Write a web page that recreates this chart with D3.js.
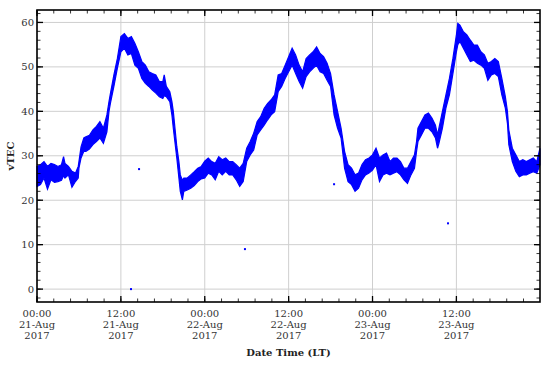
<!DOCTYPE html>
<html>
<head>
<meta charset="utf-8">
<script src="https://cdn.jsdelivr.net/npm/d3@7"></script>
<style>
  body { margin: 0; background: #fff; }
  svg { display: block; }
  text { font-family: 'DejaVu Serif', serif; }
</style>
</head>
<body>
<script>
// vTEC: hours since 21-Aug-2017 00:00 (LT), low / high edge of the band
const hours = [0,0.5,1,1.5,2,2.5,3,3.5,3.8,4,4.5,5,5.5,5.9,6,6.3,6.7,7,7.5,8,8.5,9,9.5,10,10.3,10.5,11,11.5,12,
  12.5,13,13.5,14,14.5,15,15.5,16,16.5,17,17.5,18,18.2,18.5,19,19.3,19.5,20,20.3,20.5,20.8,21,21.5,22,22.5,23,23.5,24,
  24.5,25,25.5,26,26.5,27,27.5,28,28.5,29,29.5,30,30.5,31,31.5,32,32.5,33,33.5,34,34.5,35,35.5,36,
  36.5,37,37.5,38,38.5,39,39.5,40,40.5,41,41.5,42,42.5,43,43.5,44,44.5,45,45.5,46,46.5,47,47.5,48,
  48.5,49,49.5,50,50.5,51,51.5,52,52.5,53,53.5,54,54.3,54.5,55,55.5,56,56.5,57,57.3,57.5,58,58.5,59,59.5,60,
  60.2,60.5,61,61.5,62,62.5,63,63.5,64,64.5,65,65.5,66,66.5,67,67.3,67.5,68,68.5,69,69.5,70,70.5,71,71.5,71.96];
const vtecLow = [23.1,23.5,25.0,22.5,24.6,24.0,24.2,24.5,25.5,25.0,25.7,22.9,24.2,25.0,27.2,29.5,31.0,31.0,31.5,32.5,33.2,34.0,32.8,35.4,40.0,41.8,45.6,49.7,53.4,
  54.2,52.7,53.0,50.4,49.7,47.4,46.3,45.6,44.8,44.1,43.3,42.9,43.5,43.3,42.2,39.2,36.2,29.5,25.0,22.0,20.1,22.0,22.3,22.7,23.3,24.2,24.8,25.0,
  26.1,25.7,24.6,26.5,25.7,26.5,25.7,25.7,24.6,23.1,24.2,28.7,30.2,31.3,34.7,35.8,36.9,38.1,39.2,39.9,44.4,45.6,47.4,48.9,
  50.4,48.5,46.7,45.2,47.8,48.9,49.7,50.4,48.9,48.5,47.0,45.6,39.2,36.2,34.0,27.2,24.2,23.5,22.0,22.7,24.6,25.7,26.1,26.8,
  28.0,24.2,25.7,26.1,25.7,26.1,26.4,25.7,24.6,23.8,25.7,27.2,31.0,33.2,34.7,36.2,36.2,35.4,34.0,31.7,32.8,36.2,40.7,43.7,48.5,53.4,
  55.0,55.7,54.2,52.7,51.2,51.5,50.8,50.4,49.7,47.0,48.2,48.5,47.8,43.7,40.7,37.3,32.5,28.7,26.5,25.3,25.7,25.7,26.1,26.4,26.1,28.0];
const vtecHigh = [27.6,28.0,28.7,27.6,28.3,28.0,27.6,28.0,29.8,28.3,27.6,26.5,26.1,27.6,28.7,32.0,34.0,34.3,34.6,35.8,36.6,37.7,36.2,39.2,42.2,44.0,48.2,51.9,56.8,
  57.5,56.4,56.8,55.3,53.4,51.2,50.4,48.9,48.5,48.2,46.7,46.7,48.2,45.6,44.4,42.2,40.0,32.1,28.7,25.7,24.5,25.0,25.0,25.7,26.4,27.2,27.6,28.8,
  29.5,28.7,28.3,29.8,29.1,29.5,28.7,28.7,28.0,27.2,28.3,31.7,33.2,35.1,37.7,38.8,40.7,41.8,42.6,43.7,48.2,48.5,50.4,52.3,
  54.2,52.7,50.4,48.9,51.9,52.7,53.4,54.5,53.0,52.3,50.8,48.5,43.7,40.0,36.2,31.0,28.0,27.2,25.7,26.1,28.0,29.1,29.5,30.2,
  31.7,29.5,30.2,30.6,28.7,29.5,29.5,28.7,27.2,27.2,28.7,30.2,33.2,36.2,37.7,39.2,39.6,38.5,36.9,34.7,36.2,40.0,43.7,47.4,51.9,57.2,
  59.8,59.4,57.9,57.2,56.0,54.9,54.9,53.4,52.7,50.8,51.2,51.9,51.2,47.4,43.3,40.0,35.8,31.7,30.2,28.7,29.1,28.7,29.1,29.5,28.7,31.7];
// stray single readings
const strayHours = [13.45,14.6,29.75,42.5,58.8];
const strayVtec = [0,27,9,23.6,14.8];

const yTicks = [0,10,20,30,40,50,60];

const w = 550, h = 366;
const pL = 37, pR = 540, pT = 10, pB = 302;
const t0 = Date.UTC(2017,7,21,0,0);
const toDate = hr => new Date(t0 + hr*3600e3);

const band = hours.map((d,i)=>({t:toDate(d), lo:vtecLow[i], hi:vtecHigh[i]}));
const stray = strayHours.map((d,i)=>({t:toDate(d), v:strayVtec[i]}));

const x = d3.scaleUtc().domain([toDate(0), toDate(71.96)]).range([pL,pR]);
const y = d3.scaleLinear().domain([-2.9,62.8]).range([pB,pT]);

const svg = d3.select('body').append('svg').attr('width',w).attr('height',h);

const majorX = d3.range(0,72,12).map(toDate);
const minorX = d3.range(0,72,2.4).map(toDate);
const minorY = d3.range(-2,63,2);

// grid
svg.append('g').selectAll('line').data(majorX).enter().append('line')
  .attr('x1',d=>x(d)).attr('x2',d=>x(d)).attr('y1',pT).attr('y2',pB)
  .style('stroke','#cfcfcf').style('stroke-width',1);
svg.append('g').selectAll('line').data(yTicks).enter().append('line')
  .attr('x1',pL).attr('x2',pR).attr('y1',d=>y(d)).attr('y2',d=>y(d))
  .style('stroke','#cfcfcf').style('stroke-width',1);

// data band
const area = d3.area().x(d=>x(d.t)).y0(d=>y(d.lo)).y1(d=>y(d.hi));
svg.append('path').datum(band).attr('d',area)
  .style('fill','#0000ff').style('stroke','#0000ff').style('stroke-width',1.2);

svg.append('g').selectAll('rect').data(stray).enter().append('rect')
  .attr('x',d=>x(d.t)-1).attr('y',d=>y(d.v)-1).attr('width',2).attr('height',2)
  .style('fill','#0000ff');

// ticks, all pointing in
const tk = svg.append('g').style('stroke','#000');
minorX.forEach(d=>{
  tk.append('line').attr('x1',x(d)).attr('x2',x(d)).attr('y1',pB).attr('y2',pB-3.5).style('stroke-width',0.8);
  tk.append('line').attr('x1',x(d)).attr('x2',x(d)).attr('y1',pT).attr('y2',pT+3.5).style('stroke-width',0.8);
});
majorX.forEach(d=>{
  tk.append('line').attr('x1',x(d)).attr('x2',x(d)).attr('y1',pB).attr('y2',pB-6).style('stroke-width',1.3);
  tk.append('line').attr('x1',x(d)).attr('x2',x(d)).attr('y1',pT).attr('y2',pT+6).style('stroke-width',1.3);
});
minorY.forEach(d=>{
  tk.append('line').attr('x1',pL).attr('x2',pL+3.5).attr('y1',y(d)).attr('y2',y(d)).style('stroke-width',0.8);
  tk.append('line').attr('x1',pR).attr('x2',pR-3.5).attr('y1',y(d)).attr('y2',y(d)).style('stroke-width',0.8);
});
yTicks.forEach(d=>{
  tk.append('line').attr('x1',pL).attr('x2',pL+6).attr('y1',y(d)).attr('y2',y(d)).style('stroke-width',1.3);
  tk.append('line').attr('x1',pR).attr('x2',pR-6).attr('y1',y(d)).attr('y2',y(d)).style('stroke-width',1.3);
});

// frame
svg.append('rect').attr('x',pL).attr('y',pT).attr('width',pR-pL).attr('height',pB-pT)
  .style('fill','none').style('stroke','#000').style('stroke-width',1.6);

// tick labels
const fmt = [d3.utcFormat('%H:%M'), d3.utcFormat('%d-%b'), d3.utcFormat('%Y')];
const xl = svg.append('g').selectAll('text').data(majorX).enter().append('text')
  .attr('text-anchor','middle').style('font-size','10px').style('fill','#333');
fmt.forEach((f,i)=>{
  xl.append('tspan').attr('x',d=>x(d)).attr('y',316.7+i*11.3).text(d=>f(d));
});
svg.append('g').selectAll('text').data(yTicks).enter().append('text')
  .attr('x',34).attr('y',d=>y(d)+3.6).attr('text-anchor','end')
  .style('font-size','10px').style('fill','#333').text(d=>d);

// axis titles
svg.append('text').attr('x',(pL+pR)/2).attr('y',355.5).attr('text-anchor','middle')
  .style('font-size','10px').style('font-weight','bold').style('fill','#222').text('Date Time (LT)');
svg.append('text').attr('transform','translate(14,'+((pT+pB)/2)+') rotate(-90)')
  .attr('text-anchor','middle').style('font-size','10px').style('font-weight','bold').style('fill','#222').text('vTEC');
</script>
</body>
</html>
